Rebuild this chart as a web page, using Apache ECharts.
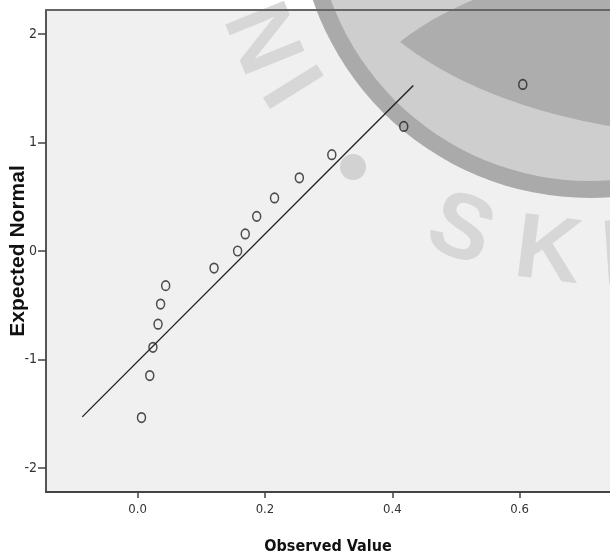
<!DOCTYPE html>
<html>
<head>
<meta charset="utf-8">
<script src="https://cdn.jsdelivr.net/npm/echarts@6/dist/echarts.min.js"></script>
<style>
html,body{margin:0;padding:0;background:#fff;}
#chart{width:610px;height:557px;}
</style>
</head>
<body>
<div id="chart"></div>
<script>
// Observed values (x) and expected normal quantiles (y)
var observed = [0.006, 0.019, 0.024, 0.032, 0.036, 0.044, 0.120, 0.157, 0.169, 0.187, 0.215, 0.254, 0.305, 0.418, 0.605];
var expected = [-1.534, -1.147, -0.887, -0.674, -0.489, -0.319, -0.157, 0.000, 0.157, 0.319, 0.489, 0.674, 0.887, 1.147, 1.534];
// Reference line end points
var lineX = [-0.087, 0.433];
var lineY = [-1.528, 1.525];
// Tick labels
var xTicks = [0, 0.2, 0.4, 0.6];
var yTicks = [-2, -1, 0, 1, 2];

var points = observed.map(function (v, i) { return [v, expected[i]]; });
var linePts = lineX.map(function (v, i) { return [v, lineY[i]]; });

var narrow = '"Liberation Sans Narrow", "Arial Narrow", "DejaVu Sans Condensed", sans-serif';
var chart = echarts.init(document.getElementById('chart'), null, {renderer: 'canvas'});

// --- watermark decoration (not data) ---
var cx = 590, cy = -95;
function rad(d) { return d * Math.PI / 180; }
function quad(p0, p1, p2, n) {
  var out = [];
  for (var i = 0; i <= n; i++) {
    var t = i / n, a = (1 - t) * (1 - t), b = 2 * (1 - t) * t, c = t * t;
    out.push([a * p0[0] + b * p1[0] + c * p2[0], a * p0[1] + b * p1[1] + c * p2[1]]);
  }
  return out;
}
var lens = quad([400, 42], [480, 104], [615, 127], 30)
  .concat([[615, -10], [500, -10]])
  .concat(quad([500, -10], [440, 10], [400, 42], 20));
var wmFont = 'bold 92px "Liberation Sans", Arial, sans-serif';
var wmColor = '#d7d7d7';

chart.setOption({
  animation: false,
  backgroundColor: '#ffffff',
  grid: {left: 46, top: 10, right: 0, bottom: 65, containLabel: false, outerBoundsMode: 'none',
    show: true, backgroundColor: '#f0f0f0', borderWidth: 0, z: 0},
  graphic: [
    {type: 'circle', silent: true, z: 1, z2: 1, shape: {cx: cx, cy: cy, r: 293}, style: {fill: '#aaaaaa'}},
    {type: 'circle', silent: true, z: 1, z2: 2, shape: {cx: cx, cy: cy, r: 276}, style: {fill: '#cecece'}},
    {type: 'polygon', silent: true, z: 1, z2: 3, shape: {points: lens}, style: {fill: '#adadad'}},
    {type: 'circle', silent: true, z: 1, z2: 4, shape: {cx: 353, cy: 167, r: 13}, style: {fill: '#d2d2d2'}},
    {type: 'text', silent: true, z: 1, z2: 5, x: 259, y: 40, rotation: rad(-68), style: {text: 'N', font: wmFont, fill: wmColor, align: 'center', verticalAlign: 'middle'}},
    {type: 'text', silent: true, z: 1, z2: 5, x: 288, y: 90, rotation: rad(-58), style: {text: 'I', font: wmFont, fill: wmColor, align: 'center', verticalAlign: 'middle'}},
    {type: 'text', silent: true, z: 1, z2: 5, x: 460, y: 232, rotation: rad(-22), style: {text: 'S', font: wmFont, fill: wmColor, align: 'center', verticalAlign: 'middle'}},
    {type: 'text', silent: true, z: 1, z2: 5, x: 548, y: 254, rotation: rad(-7), style: {text: 'K', font: wmFont, fill: wmColor, align: 'center', verticalAlign: 'middle'}},
    {type: 'text', silent: true, z: 1, z2: 5, x: 614, y: 258, rotation: rad(4), style: {text: 'I', font: wmFont, fill: wmColor, align: 'center', verticalAlign: 'middle'}}
  ],
  xAxis: [{
    type: 'value', position: 'bottom', min: -0.144, max: 0.742, z: 5,
    name: 'Observed Value', nameLocation: 'middle', nameGap: 47, nameMoveOverlap: false,
    nameTextStyle: {fontFamily: narrow, fontWeight: 'bold', fontSize: 16, color: '#111'},
    axisLine: {show: true, onZero: false, lineStyle: {color: '#444', width: 2}},
    axisTick: {show: true, length: 6, customValues: xTicks, lineStyle: {color: '#444', width: 1.5}},
    axisLabel: {customValues: xTicks, margin: 11, fontFamily: narrow, fontSize: 13, color: '#333',
      formatter: function (v) { return v.toFixed(1); }},
    splitLine: {show: false}
  }, {
    type: 'value', position: 'top', min: -0.144, max: 0.742, z: 5,
    axisLine: {show: true, onZero: false, lineStyle: {color: '#666', width: 2}},
    axisTick: {show: false}, axisLabel: {show: false}, splitLine: {show: false}
  }],
  yAxis: {
    type: 'value', min: -2.22, max: 2.22, z: 5,
    name: 'Expected Normal', nameLocation: 'middle', nameGap: 17, nameMoveOverlap: false,
    nameTextStyle: {fontFamily: '"Liberation Sans", Arial, sans-serif', fontWeight: 'bold', fontSize: 21, color: '#111'},
    axisLine: {show: true, onZero: false, lineStyle: {color: '#555', width: 2}},
    axisTick: {show: true, length: 8, customValues: yTicks, lineStyle: {color: '#444', width: 1.5}},
    axisLabel: {customValues: yTicks, margin: 9, fontFamily: narrow, fontSize: 14, color: '#333'},
    splitLine: {show: false}
  },
  series: [{
    type: 'line', data: linePts, symbol: 'none', z: 6, xAxisIndex: 0,
    lineStyle: {color: '#222', width: 1.4}
  }, {
    type: 'scatter', data: points, symbol: 'circle', symbolSize: [8, 9.5], z: 7, xAxisIndex: 0,
    itemStyle: {color: 'rgba(0,0,0,0)', borderColor: '#222', borderWidth: 1.6}
  }]
});
</script>
</body>
</html>
